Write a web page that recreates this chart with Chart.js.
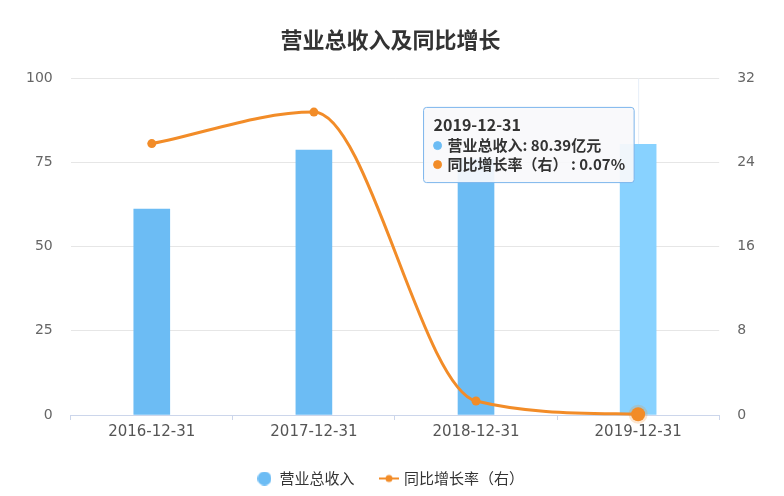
<!DOCTYPE html>
<html lang="zh">
<head>
<meta charset="UTF-8">
<title>营业总收入及同比增长</title>
<script src="https://cdn.jsdelivr.net/npm/chart.js"></script>
<style>
    body { margin: 0; background: #fff; }
    #wrap { width: 784px; height: 496px; }
</style>
</head>
<body>
<div id="wrap"><canvas id="chart"></canvas></div>
<script>
const categories = ['2016-12-31', '2017-12-31', '2018-12-31', '2019-12-31'];
const revenue = [61.2, 78.7, 76.0, 80.39];      // 营业总收入 (亿元)
const growth = [25.8, 28.8, 1.33, 0.07];        // 同比增长率 (%)
const leftTicks = [0, 25, 50, 75, 100];
const rightTicks = [0, 8, 16, 24, 32];

const FONT = '"Noto Sans CJK SC", "Noto Sans", sans-serif';
const NUMFONT = '"DejaVu Sans", sans-serif';
const BLUE = '#6cbcf4';
const ORANGE = '#f28c28';
const activeIndex = 3;

// legend icon for the line series: short line with a dot
function lineIcon() {
    const c = document.createElement('canvas');
    c.width = 20; c.height = 10;
    const g = c.getContext('2d');
    g.strokeStyle = ORANGE;
    g.lineWidth = 2;
    g.beginPath(); g.moveTo(0, 5); g.lineTo(20, 5); g.stroke();
    g.fillStyle = ORANGE;
    g.beginPath(); g.arc(10, 5, 3.5, 0, Math.PI * 2); g.fill();
    return c;
}
function dotIcon() {
    const c = document.createElement('canvas');
    c.width = 14; c.height = 14;
    const g = c.getContext('2d');
    g.fillStyle = BLUE;
    g.beginPath(); g.arc(7, 7, 7, 0, Math.PI * 2); g.fill();
    return c;
}

// vertical pointer line at the hovered category
const pointerLine = {
    id: 'pointerLine',
    beforeDatasetsDraw(chart) {
        const act = chart.getActiveElements();
        if (!act.length) return;
        const x = act[0].element.x;
        const { top, bottom } = chart.chartArea;
        const ctx = chart.ctx;
        ctx.save();
        ctx.strokeStyle = '#e6eef8';
        ctx.lineWidth = 1;
        ctx.beginPath();
        ctx.moveTo(x + 0.5, top);
        ctx.lineTo(x + 0.5, bottom);
        ctx.stroke();
        ctx.restore();
    }
};

Chart.Tooltip.positioners.fixedLeft = function (items) {
    if (!items.length) return false;
    const area = this.chart.chartArea;
    return { x: items[0].element.x - 7, y: area.top + 27 };
};

const chart = new Chart(document.getElementById('chart'), {
    data: {
        labels: categories,
        datasets: [{
            type: 'line',
            label: '同比增长率（右）',
            data: growth,
            yAxisID: 'y1',
            borderColor: ORANGE,
            backgroundColor: ORANGE,
            borderWidth: 3,
            cubicInterpolationMode: 'monotone',
            clip: false,
            pointRadius: 4.5,
            pointBackgroundColor: ORANGE,
            pointBorderWidth: 0,
            pointHoverRadius: 7,
            pointHoverBackgroundColor: ORANGE,
            pointHoverBorderColor: 'rgba(242,140,40,0.22)',
            pointHoverBorderWidth: 5,
            order: 0
        }, {
            type: 'bar',
            label: '营业总收入',
            data: revenue,
            yAxisID: 'y',
            backgroundColor: BLUE,
            hoverBackgroundColor: '#88d2ff',
            barThickness: 36,
            order: 1
        }]
    },
    options: {
        responsive: true,
        maintainAspectRatio: false,
        animation: false,
        interaction: { mode: 'index', intersect: false },
        layout: { padding: { left: 8, right: 11, top: 0, bottom: 0 } },
        plugins: {
            title: {
                display: true,
                text: '营业总收入及同比增长',
                color: '#333',
                font: { family: FONT, size: 22, weight: 'bold' },
                padding: { top: 26, bottom: 26 }
            },
            legend: {
                position: 'bottom',
                labels: {
                    usePointStyle: true,
                    color: '#333',
                    font: { family: FONT, size: 15 },
                    padding: 27,
                    generateLabels: (chart) => [
                        { text: '营业总收入', pointStyle: dotIcon(), fontColor: '#333', datasetIndex: 1, lineWidth: 0 },
                        { text: '同比增长率（右）', pointStyle: lineIcon(), fontColor: '#333', datasetIndex: 0, lineWidth: 0 }
                    ]
                }
            },
            tooltip: {
                position: 'fixedLeft',
                xAlign: 'right',
                yAlign: 'top',
                caretSize: 0,
                backgroundColor: 'rgba(248,249,251,0.92)',
                borderColor: '#7cb5ec',
                borderWidth: 1,
                cornerRadius: 3,
                titleColor: '#333',
                bodyColor: '#333',
                titleFont: { family: FONT, size: 16, weight: 'bold' },
                bodyFont: { family: FONT, size: 15, weight: 'bold' },
                titleMarginBottom: 2,
                bodySpacing: 1,
                padding: { left: 10, right: 9, top: 8, bottom: 9 },
                usePointStyle: true,
                boxWidth: 8,
                boxHeight: 8,
                boxPadding: 4,
                itemSort: (a, b) => b.datasetIndex - a.datasetIndex,
                callbacks: {
                    label: (item) => item.dataset.type === 'bar'
                        ? item.dataset.label + ': ' + item.parsed.y.toFixed(2) + '亿元'
                        : item.dataset.label + ' : ' + item.parsed.y.toFixed(2) + '%',
                    labelColor: (item) => ({
                        borderColor: item.dataset.type === 'bar' ? BLUE : ORANGE,
                        backgroundColor: item.dataset.type === 'bar' ? BLUE : ORANGE,
                        borderWidth: 0
                    }),
                    labelPointStyle: () => ({ pointStyle: 'circle', rotation: 0 })
                }
            }
        },
        scales: {
            x: {
                offset: true,
                grid: {
                    display: true,
                    offset: true,
                    drawOnChartArea: false,
                    drawTicks: true,
                    tickLength: 5,
                    color: '#ccd6eb'
                },
                border: { color: '#ccd6eb' },
                ticks: { color: '#555', font: { family: NUMFONT, size: 15 }, padding: 3 }
            },
            y: {
                position: 'left',
                min: 0,
                max: 100,
                afterBuildTicks: (s) => { s.ticks = leftTicks.map(v => ({ value: v })); },
                grid: { color: '#e6e6e6', drawTicks: false },
                border: { display: false },
                ticks: { color: '#666', font: { family: NUMFONT, size: 14 }, padding: 18 }
            },
            y1: {
                position: 'right',
                min: 0,
                max: 32,
                afterBuildTicks: (s) => { s.ticks = rightTicks.map(v => ({ value: v })); },
                grid: { drawOnChartArea: false, drawTicks: false },
                border: { display: false },
                ticks: { color: '#666', font: { family: NUMFONT, size: 14 }, padding: 18 }
            }
        }
    },
    plugins: [pointerLine]
});

const act = [{ datasetIndex: 0, index: activeIndex }, { datasetIndex: 1, index: activeIndex }];
chart.setActiveElements(act);
chart.tooltip.setActiveElements(act, { x: 0, y: 0 });
chart.render();
</script>
</body>
</html>
